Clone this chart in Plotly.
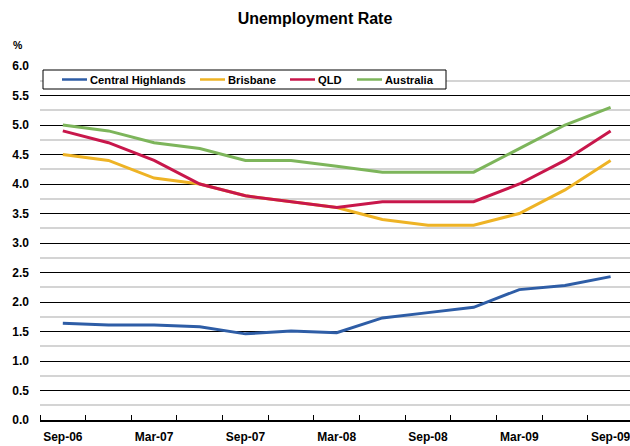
import plotly.graph_objects as go

# Quarterly unemployment rate (%), Sep-06 to Sep-09
quarters = ["Sep-06", "Dec-06", "Mar-07", "Jun-07", "Sep-07", "Dec-07", "Mar-08",
            "Jun-08", "Sep-08", "Dec-08", "Mar-09", "Jun-09", "Sep-09"]
central_highlands = [1.64, 1.61, 1.61, 1.58, 1.46, 1.51, 1.48, 1.73, 1.82, 1.91, 2.21, 2.28, 2.43]
brisbane = [4.5, 4.4, 4.1, 4.0, 3.8, 3.7, 3.6, 3.4, 3.3, 3.3, 3.5, 3.9, 4.4]
qld = [4.9, 4.7, 4.4, 4.0, 3.8, 3.7, 3.6, 3.7, 3.7, 3.7, 4.0, 4.4, 4.9]
australia = [5.0, 4.9, 4.7, 4.6, 4.4, 4.4, 4.3, 4.2, 4.2, 4.2, 4.6, 5.0, 5.3]

y_ticks = [i * 0.5 for i in range(13)]
label_quarters = quarters[::2]

series = [
    ("Central Highlands", central_highlands, "#2E5DA6"),
    ("Brisbane", brisbane, "#EEB325"),
    ("QLD", qld, "#C8174B"),
    ("Australia", australia, "#7DB55B"),
]

FONT = "Liberation Sans"
W, H = 630, 446
ML, MR, MT, MB = 40, 0, 66, 26
PW, PH = W - ML - MR, H - MT - MB


def px_x(px):
    """Pixel column -> paper x."""
    return (px - ML) / PW


def px_y(py):
    """Pixel row -> paper y."""
    return (H - MB - py) / PH


x_idx = list(range(len(quarters)))

fig = go.Figure()
for name, vals, color in series:
    fig.add_trace(go.Scatter(
        x=x_idx, y=vals, name=name, mode="lines",
        line=dict(color=color, width=3),
        customdata=quarters, showlegend=False,
        hovertemplate="%{customdata}: %{y}<extra>" + name + "</extra>",
    ))

# boxed single-row key inside the top of the plot
shapes = [dict(type="rect", xref="paper", yref="paper",
               x0=px_x(43), x1=px_x(446), y0=px_y(89), y1=px_y(70),
               fillcolor="white", line=dict(color="black", width=1), layer="above")]
annotations = []
key_starts = [62, 200, 290, 357]
key_y = px_y(79.5)
for (name, _, color), lx in zip(series, key_starts):
    shapes.append(dict(type="line", xref="paper", yref="paper",
                       x0=px_x(lx), x1=px_x(lx + 25), y0=key_y, y1=key_y,
                       line=dict(color=color, width=2.5), layer="above"))
    annotations.append(dict(text=f"<b>{name}</b>", xref="paper", yref="paper",
                            x=px_x(lx + 26), y=key_y, xanchor="left", yanchor="middle",
                            showarrow=False,
                            font=dict(family=FONT, size=11.2, color="black")))

annotations.append(dict(text="<b>%</b>", xref="paper", yref="paper",
                        x=px_x(18), y=px_y(45), xanchor="center", yanchor="middle",
                        showarrow=False, font=dict(family=FONT, size=10.5, color="black")))

tick_font = dict(family=FONT, size=12, color="black", weight="bold")

fig.update_layout(
    width=W, height=H,
    margin=dict(l=ML, r=MR, t=MT, b=MB),
    paper_bgcolor="white", plot_bgcolor="white",
    title=dict(text="<b>Unemployment Rate</b>", x=0.5, xanchor="center",
               y=1 - 18 / H, yanchor="middle",
               font=dict(family=FONT, size=16, color="black")),
    font=dict(family=FONT, size=11, color="black"),
    showlegend=False,
    xaxis=dict(
        range=[-0.5, 12.425], showgrid=False, zeroline=False,
        showline=True, linecolor="black", linewidth=2,
        tickmode="array", tickvals=x_idx[::2], ticktext=label_quarters,
        ticks="", ticklabelstandoff=5, tickfont=tick_font,
        ticklabeloverflow="allow",
        minor=dict(tick0=-0.5, dtick=1, ticks="inside", ticklen=5,
                   tickcolor="black", tickwidth=1, showgrid=False),
    ),
    yaxis=dict(
        range=[0, 6], tickmode="array", tickvals=y_ticks,
        ticktext=[f"{v:.1f}" for v in y_ticks],
        showgrid=True, gridcolor="black", gridwidth=1, zeroline=False,
        ticks="", ticklabelstandoff=10, tickfont=tick_font,
        minor=dict(tick0=0.25, dtick=0.5, showgrid=True, gridcolor="#d4d4d4", gridwidth=1.5),
    ),
    shapes=shapes,
    annotations=annotations,
)

fig.write_html("out.html")
